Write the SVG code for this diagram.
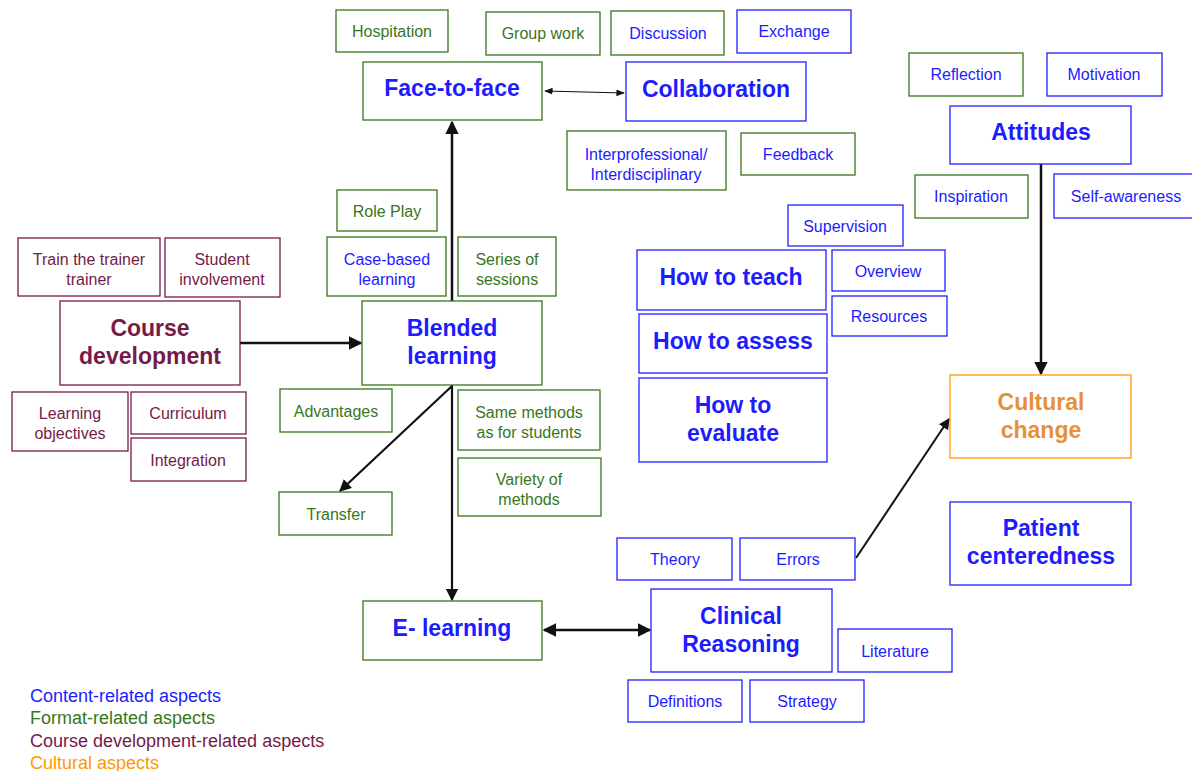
<svg xmlns="http://www.w3.org/2000/svg" width="1192" height="771" viewBox="0 0 1192 771">
<style>
rect{fill:#fff;stroke-width:1.3}
.g{stroke:#38761d}.b{stroke:#2020ff}.m{stroke:#741b47}.o{stroke:#ff9900}
text{font-family:"Liberation Sans",Arial,sans-serif;font-size:16px;text-anchor:middle}
.tg{fill:#38761d}.tb{fill:#1c1cff}.tm{fill:#741b47}.to{fill:#e69138}
.h{font-weight:bold;font-size:23px}
.leg{text-anchor:start;font-size:18px}
.c{stroke:#111;fill:none}
</style>
<defs>
<marker id="a" viewBox="0 0 10 10" refX="9" refY="5" markerWidth="5.5" markerHeight="5.5" orient="auto-start-reverse" markerUnits="strokeWidth"><path d="M0,0L10,5L0,10z" fill="#111"/></marker>
<marker id="s" viewBox="0 0 10 10" refX="9" refY="5" markerWidth="7" markerHeight="7" orient="auto-start-reverse" markerUnits="strokeWidth"><path d="M0,1L10,5L0,9z" fill="#111"/></marker>
</defs>
<rect x="0" y="0" width="1192" height="771" fill="#fff" stroke="none"/>
<g id="connectors">
<line class="c" x1="452" y1="301" x2="452" y2="122" stroke-width="2.5" marker-end="url(#a)"/>
<line class="c" x1="545" y1="91" x2="624" y2="93" stroke-width="1.2" marker-start="url(#s)" marker-end="url(#s)"/>
<line class="c" x1="240" y1="343" x2="361" y2="343" stroke-width="2.5" marker-end="url(#a)"/>
<line class="c" x1="452" y1="385" x2="452" y2="600" stroke-width="2.2" marker-end="url(#a)"/>
<line class="c" x1="452" y1="386" x2="340" y2="491" stroke-width="2.2" marker-end="url(#a)"/>
<line class="c" x1="544" y1="630" x2="650" y2="630" stroke-width="2.5" marker-start="url(#a)" marker-end="url(#a)"/>
<line class="c" x1="856" y1="558" x2="949" y2="419" stroke-width="2" marker-end="url(#a)"/>
<line class="c" x1="1041" y1="164" x2="1041" y2="374" stroke-width="2.5" marker-end="url(#a)"/>
</g>
<g id="hospitation"><rect class="g" x="336" y="10" width="112" height="42"/><text class="tg" x="392" y="37">Hospitation</text></g>
<g id="groupwork"><rect class="g" x="486" y="12" width="114" height="43"/><text class="tg" x="543" y="39">Group work</text></g>
<g id="discussion"><rect class="g" x="611" y="11" width="113" height="44"/><text class="tb" x="668" y="39">Discussion</text></g>
<g id="exchange"><rect class="b" x="737" y="10" width="114" height="43"/><text class="tb" x="794" y="37">Exchange</text></g>
<g id="facetoface"><rect class="g" x="363" y="62" width="179" height="58"/><text class="tb h" x="452" y="96">Face-to-face</text></g>
<g id="collaboration"><rect class="b" x="626" y="62" width="180" height="59"/><text class="tb h" x="716" y="97">Collaboration</text></g>
<g id="interprofessional"><rect class="g" x="567" y="131" width="159" height="59"/><text class="tb" x="646" y="160">Interprofessional/</text><text class="tb" x="646" y="180">Interdisciplinary</text></g>
<g id="feedback"><rect class="g" x="741" y="133" width="114" height="42"/><text class="tb" x="798" y="160">Feedback</text></g>
<g id="reflection"><rect class="g" x="909" y="53" width="114" height="43"/><text class="tb" x="966" y="80">Reflection</text></g>
<g id="motivation"><rect class="b" x="1047" y="53" width="115" height="43"/><text class="tb" x="1104" y="80">Motivation</text></g>
<g id="attitudes"><rect class="b" x="950" y="106" width="181" height="58"/><text class="tb h" x="1041" y="140">Attitudes</text></g>
<g id="inspiration"><rect class="g" x="915" y="175" width="113" height="43"/><text class="tb" x="971" y="202">Inspiration</text></g>
<g id="selfawareness"><rect class="b" x="1054" y="174" width="140" height="44"/><text class="tb" x="1126" y="202">Self-awareness</text></g>
<g id="supervision"><rect class="b" x="788" y="205" width="115" height="41"/><text class="tb" x="845" y="232">Supervision</text></g>
<g id="howtoteach"><rect class="b" x="637" y="250" width="189" height="60"/><text class="tb h" x="731" y="285">How to teach</text></g>
<g id="overview"><rect class="b" x="832" y="250" width="113" height="41"/><text class="tb" x="888" y="277">Overview</text></g>
<g id="resources"><rect class="b" x="832" y="296" width="115" height="40"/><text class="tb" x="889" y="322">Resources</text></g>
<g id="howtoassess"><rect class="b" x="639" y="314" width="188" height="59"/><text class="tb h" x="733" y="349">How to assess</text></g>
<g id="howtoevaluate"><rect class="b" x="639" y="378" width="188" height="84"/><text class="tb h" x="733" y="413">How to</text><text class="tb h" x="733" y="441">evaluate</text></g>
<g id="culturalchange"><rect class="o" x="950" y="375" width="181" height="83"/><text class="to h" x="1041" y="410">Cultural</text><text class="to h" x="1041" y="438">change</text></g>
<g id="patientcenteredness"><rect class="b" x="950" y="502" width="181" height="83"/><text class="tb h" x="1041" y="536">Patient</text><text class="tb h" x="1041" y="564">centeredness</text></g>
<g id="roleplay"><rect class="g" x="337" y="190" width="100" height="41"/><text class="tg" x="387" y="217">Role Play</text></g>
<g id="casebased"><rect class="g" x="327" y="237" width="119" height="59"/><text class="tb" x="387" y="265">Case-based</text><text class="tb" x="387" y="285">learning</text></g>
<g id="series"><rect class="g" x="458" y="237" width="98" height="59"/><text class="tg" x="507" y="265">Series of</text><text class="tg" x="507" y="285">sessions</text></g>
<g id="trainthetrainer"><rect class="m" x="18" y="238" width="142" height="58"/><text class="tm" x="89" y="265">Train the trainer</text><text class="tm" x="89" y="285">trainer</text></g>
<g id="studentinvolvement"><rect class="m" x="165" y="238" width="115" height="59"/><text class="tm" x="222" y="265">Student</text><text class="tm" x="222" y="285">involvement</text></g>
<g id="coursedevelopment"><rect class="m" x="60" y="301" width="180" height="84"/><text class="tm h" x="150" y="336">Course</text><text class="tm h" x="150" y="364">development</text></g>
<g id="blendedlearning"><rect class="g" x="362" y="301" width="180" height="84"/><text class="tb h" x="452" y="336">Blended</text><text class="tb h" x="452" y="364">learning</text></g>
<g id="learningobjectives"><rect class="m" x="12" y="392" width="116" height="59"/><text class="tm" x="70" y="419">Learning</text><text class="tm" x="70" y="439">objectives</text></g>
<g id="curriculum"><rect class="m" x="131" y="392" width="115" height="42"/><text class="tm" x="188" y="419">Curriculum</text></g>
<g id="integration"><rect class="m" x="131" y="438" width="115" height="43"/><text class="tm" x="188" y="466">Integration</text></g>
<g id="advantages"><rect class="g" x="280" y="389" width="112" height="43"/><text class="tg" x="336" y="417">Advantages</text></g>
<g id="samemethods"><rect class="g" x="458" y="390" width="142" height="60"/><text class="tg" x="529" y="418">Same methods</text><text class="tg" x="529" y="438">as for students</text></g>
<g id="variety"><rect class="g" x="458" y="458" width="143" height="58"/><text class="tg" x="529" y="485">Variety of</text><text class="tg" x="529" y="505">methods</text></g>
<g id="transfer"><rect class="g" x="279" y="492" width="113" height="43"/><text class="tg" x="336" y="520">Transfer</text></g>
<g id="elearning"><rect class="g" x="363" y="601" width="179" height="59"/><text class="tb h" x="452" y="636">E- learning</text></g>
<g id="theory"><rect class="b" x="617" y="538" width="115" height="42"/><text class="tb" x="675" y="565">Theory</text></g>
<g id="errors"><rect class="b" x="740" y="538" width="115" height="42"/><text class="tb" x="798" y="565">Errors</text></g>
<g id="clinicalreasoning"><rect class="b" x="651" y="589" width="181" height="83"/><text class="tb h" x="741" y="624">Clinical</text><text class="tb h" x="741" y="652">Reasoning</text></g>
<g id="literature"><rect class="b" x="838" y="629" width="114" height="43"/><text class="tb" x="895" y="657">Literature</text></g>
<g id="definitions"><rect class="b" x="628" y="680" width="114" height="42"/><text class="tb" x="685" y="707">Definitions</text></g>
<g id="strategy"><rect class="b" x="750" y="680" width="114" height="42"/><text class="tb" x="807" y="707">Strategy</text></g>
<g id="legend">
<text class="leg tb" x="30" y="702">Content-related aspects</text>
<text class="leg tg" x="30" y="724">Format-related aspects</text>
<text class="leg tm" x="30" y="747">Course development-related aspects</text>
<text class="leg to" x="30" y="769" style="fill:#ff9900">Cultural aspects</text>
</g>
</svg>
